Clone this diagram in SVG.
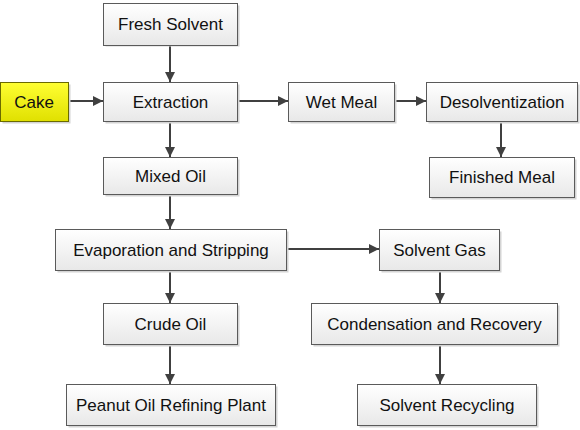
<svg xmlns="http://www.w3.org/2000/svg" width="580" height="430" viewBox="0 0 580 430">
<defs>
<linearGradient id="g" x1="0" y1="0" x2="0" y2="1"><stop offset="0" stop-color="#ffffff"/><stop offset="1" stop-color="#e8e8e8"/></linearGradient>
<linearGradient id="y" x1="0" y1="0" x2="0" y2="1"><stop offset="0" stop-color="#ffff33"/><stop offset="1" stop-color="#e0e000"/></linearGradient>
<marker id="a" viewBox="0 0 10 10" refX="10" refY="5" markerWidth="10" markerHeight="10" markerUnits="userSpaceOnUse" orient="auto"><path d="M0,0 L10,5 L0,10 Z" fill="#404040"/></marker>
</defs>
<style>
.b{fill:url(#g);stroke:#5a5a5a;stroke-width:1}
.s{fill:#d4d4d4}
.t{font-family:"Liberation Sans",Arial,sans-serif;font-size:17px;fill:#111111;text-anchor:middle;dominant-baseline:central}
.c{stroke:#404040;stroke-width:2;fill:none;marker-end:url(#a)}
</style>
<rect width="580" height="430" fill="#ffffff"/>
<g id="connectors">
<path class="c" d="M170,46 V82"/>
<path class="c" d="M68,101 H103"/>
<path class="c" d="M237,101 H288"/>
<path class="c" d="M394,101 H426"/>
<path class="c" d="M501,121 V157"/>
<path class="c" d="M170,121 V157"/>
<path class="c" d="M170,194 V229"/>
<path class="c" d="M286,249 H379"/>
<path class="c" d="M170,270 V303"/>
<path class="c" d="M170,344 V384"/>
<path class="c" d="M440,270 V303"/>
<path class="c" d="M440,344 V384"/>
</g>
<g id="fresh-solvent"><rect class="s" x="105.5" y="5.5" width="134" height="41"/><rect class="b" x="103.5" y="3.5" width="134" height="42"/><text class="t" x="170.5" y="24.5">Fresh Solvent</text></g>
<g id="cake"><rect class="s" x="2.5" y="84.5" width="68" height="39"/><rect x="0.5" y="82.5" width="68" height="39" fill="url(#y)" stroke="#6a6a00"/><text class="t" x="34" y="102">Cake</text></g>
<g id="extraction"><rect class="s" x="105.5" y="84.5" width="134" height="39"/><rect class="b" x="103.5" y="82.5" width="134" height="39"/><text class="t" x="170.5" y="102">Extraction</text></g>
<g id="wet-meal"><rect class="s" x="290.5" y="84.5" width="106" height="39"/><rect class="b" x="288.5" y="82.5" width="106" height="39"/><text class="t" x="341.5" y="102">Wet Meal</text></g>
<g id="desolventization"><rect class="s" x="428.5" y="84.5" width="151" height="39"/><rect class="b" x="426.5" y="82.5" width="151" height="39"/><text class="t" x="502" y="102">Desolventization</text></g>
<g id="finished-meal"><rect class="s" x="431.5" y="159.5" width="145" height="40"/><rect class="b" x="429.5" y="157.5" width="145" height="40"/><text class="t" x="502" y="177.5">Finished Meal</text></g>
<g id="mixed-oil"><rect class="s" x="105.5" y="159.5" width="134" height="37"/><rect class="b" x="103.5" y="157.5" width="134" height="37"/><text class="t" x="170.5" y="176">Mixed Oil</text></g>
<g id="evaporation"><rect class="s" x="57.5" y="231.5" width="231" height="41"/><rect class="b" x="55.5" y="229.5" width="231" height="41"/><text class="t" x="171" y="250">Evaporation and Stripping</text></g>
<g id="solvent-gas"><rect class="s" x="381.5" y="231.5" width="120" height="41"/><rect class="b" x="379.5" y="229.5" width="120" height="41"/><text class="t" x="439.5" y="250">Solvent Gas</text></g>
<g id="crude-oil"><rect class="s" x="105.5" y="305.5" width="134" height="41"/><rect class="b" x="103.5" y="303.5" width="134" height="41"/><text class="t" x="170.5" y="324">Crude Oil</text></g>
<g id="condensation"><rect class="s" x="313.5" y="305.5" width="246" height="41"/><rect class="b" x="311.5" y="303.5" width="246" height="41"/><text class="t" x="434.5" y="324">Condensation and Recovery</text></g>
<g id="peanut-refining"><rect class="s" x="68.5" y="386.5" width="209" height="41"/><rect class="b" x="66.5" y="384.5" width="209" height="41"/><text class="t" x="171" y="405">Peanut Oil Refining Plant</text></g>
<g id="solvent-recycling"><rect class="s" x="359.5" y="386.5" width="179" height="41"/><rect class="b" x="357.5" y="384.5" width="179" height="41"/><text class="t" x="447" y="405">Solvent Recycling</text></g>
</svg>
